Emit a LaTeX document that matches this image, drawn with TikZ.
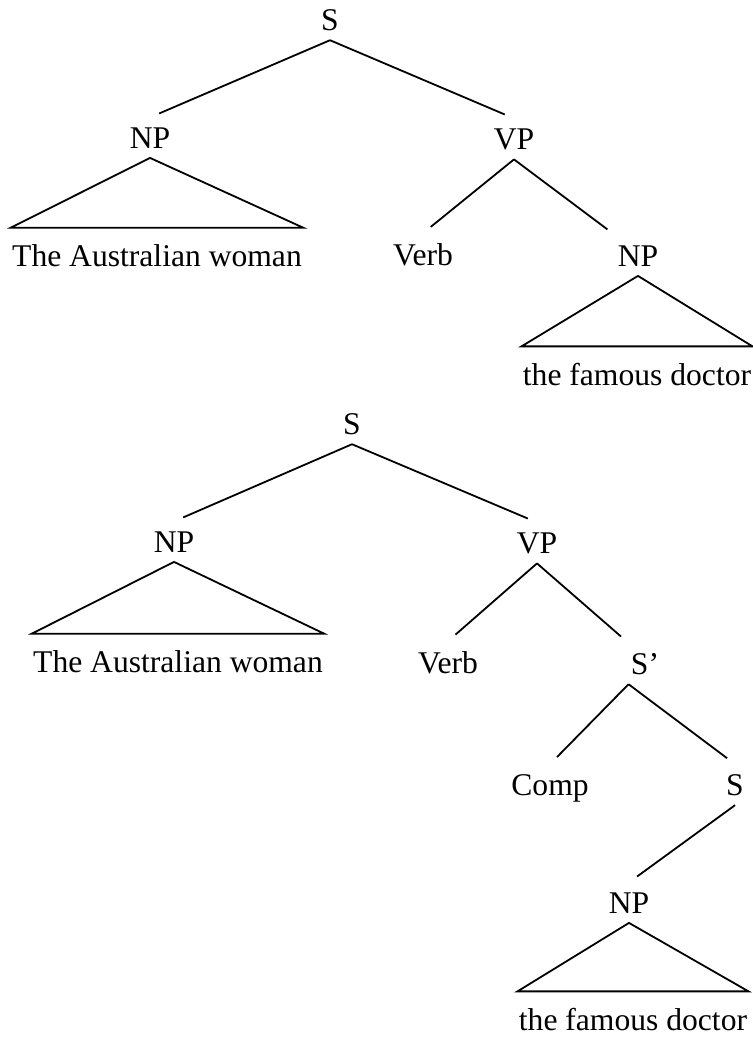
\documentclass[tikz,border=0pt]{standalone}
\usepackage{fontspec}
\setmainfont{Liberation Serif}
\usetikzlibrary{positioning}
\tikzset{
  cat/.style={inner xsep=1pt, inner ysep=4.75pt, anchor=base, font=\fontsize{15.8}{19}\selectfont},
  leaf/.style={inner xsep=0.5pt, inner ysep=8pt, anchor=base, font=\fontsize{15.8}{19}\selectfont},
  branch/.style={line width=0.9pt, shorten >=5pt},
  roof/.style={line width=0.9pt, line join=miter},
}
\begin{document}
\begin{tikzpicture}[x=0.5pt, y=-0.5pt]
\useasboundingbox (0,0) rectangle (753,1040);

% first tree
\node[cat] (s1) at (330,30) {S};
\node[cat] (np1) at (150,148) {NP};
\node[cat] (vp1) at (514,149) {VP};
\node[leaf] (woman1) at (157,266) {The Australian woman};
\node[cat] (verb1) at (423,265) {Verb};
\node[cat] (np2) at (638,266) {NP};
\node[leaf] (doctor1) at (637,385) {the famous doctor};

\draw[branch] (s1.south) -- (np1.north);
\draw[branch] (s1.south) -- (vp1.north);
\draw[roof] (np1.south) -- (woman1.north west) -- (woman1.north east) -- cycle;
\draw[branch] (vp1.south) -- (verb1.north);
\draw[branch] (vp1.south) -- (np2.north west);
\draw[roof] (np2.south) -- (doctor1.north west) -- (doctor1.north east) -- cycle;

% second tree
\node[cat] (s2) at (352,434) {S};
\node[cat] (np3) at (174,552) {NP};
\node[cat] (vp2) at (537,553) {VP};
\node[leaf] (woman2) at (178,672) {The Australian woman};
\node[cat] (verb2) at (448,673) {Verb};
\node[cat] (sbar) at (645,674) {S'};
\node[cat] (comp) at (550,795) {Comp};
\node[cat] (s3) at (735,795) {S};
\node[cat] (np4) at (629,913) {NP};
\node[leaf] (doctor2) at (633,1030) {the famous doctor};

\draw[branch] (s2.south) -- (np3.north);
\draw[branch] (s2.south) -- (vp2.north);
\draw[roof] (np3.south) -- (woman2.north west) -- (woman2.north east) -- cycle;
\draw[branch] (vp2.south) -- (verb2.north);
\draw[branch] (vp2.south) -- (sbar.north west);
\draw[branch] (sbar.south west) -- (comp.north);
\draw[branch] (sbar.south west) -- (s3.north);
\draw[branch] (s3.south) -- (np4.north);
\draw[roof] (np4.south) -- (doctor2.north west) -- (doctor2.north east) -- cycle;

\end{tikzpicture}
\end{document}
